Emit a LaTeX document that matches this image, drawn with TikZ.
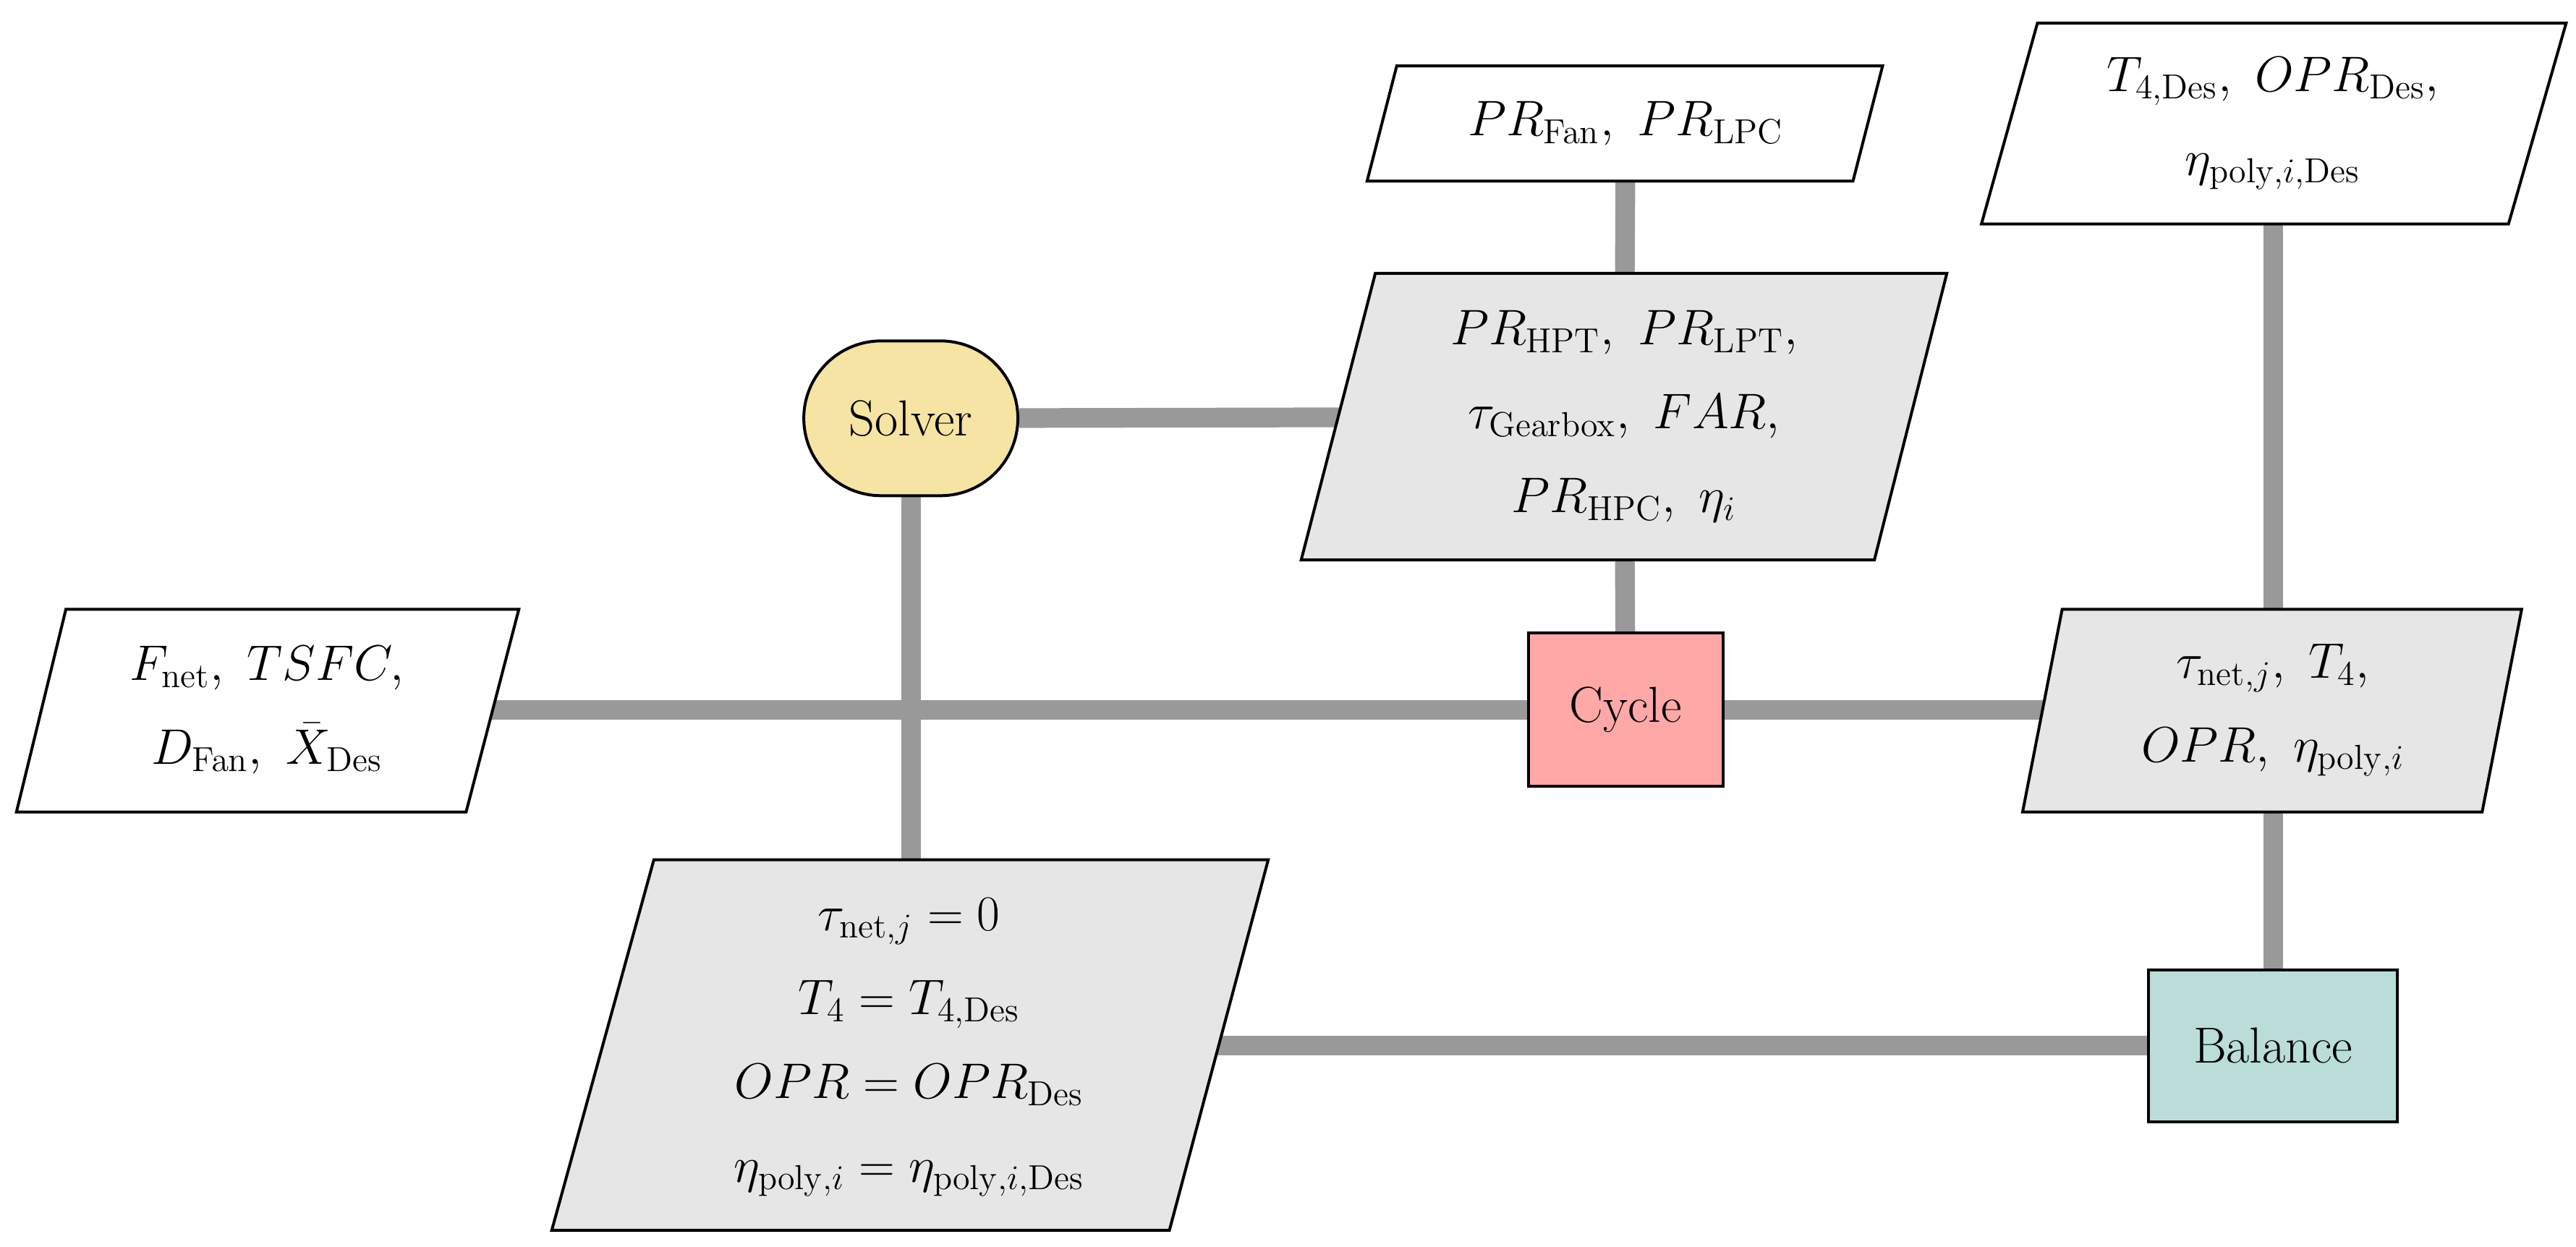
\documentclass[tikz,border=0pt]{standalone}
\usetikzlibrary{backgrounds}
\definecolor{lgray}{HTML}{E6E6E6}
\definecolor{solv}{HTML}{F5E4A3}
\definecolor{cyc}{HTML}{FFA8A8}
\definecolor{bal}{HTML}{BADDD9}
\definecolor{conn}{HTML}{999999}
\begin{document}
\begin{tikzpicture}[x=0.02cm,y=-0.02cm,
  box/.style={draw=black,line width=1pt},
  txt/.style={align=center,font=\fontsize{17.5}{29}\selectfont,inner sep=0pt},
  blk/.style={draw=black,line width=1pt,font=\fontsize{17.5}{21}\selectfont,inner sep=0pt},
  conn/.style={draw=conn,line width=6.8pt}]
\useasboundingbox (0,0) rectangle (1564,757);
% parallelograms
\draw[box,fill=white] (10,493)--(40,370)--(315,370)--(283,493)--cycle;
\draw[box,fill=white] (830,110)--(848,40)--(1143,40)--(1125,110)--cycle;
\draw[box,fill=lgray] (790,340)--(835,166)--(1182,166)--(1138,340)--cycle;
\draw[box,fill=white] (1203,136)--(1237,14)--(1558,14)--(1523,136)--cycle;
\draw[box,fill=lgray] (1228,493)--(1252,370)--(1531,370)--(1507,493)--cycle;
\draw[box,fill=lgray] (335,747)--(397,522)--(770,522)--(710,747)--cycle;
% texts
\node[txt] (out) at (162,431) {$F_\mathrm{net},\ TSFC,$\\$D_\mathrm{Fan},\ \bar{X}_\mathrm{Des}$};
\node[txt] (fan) at (987,75) {$PR_\mathrm{Fan},\ PR_\mathrm{LPC}$};
\node[txt] (var) at (986,253) {$PR_\mathrm{HPT},\ PR_\mathrm{LPT},$\\$\tau_\mathrm{Gearbox},\ FAR,$\\$PR_\mathrm{HPC},\ \eta_i$};
\node[txt] (des) at (1380,75) {$T_{4,\mathrm{Des}},\ OPR_\mathrm{Des},$\\$\eta_{\mathrm{poly},i,\mathrm{Des}}$};
\node[txt] (res) at (1380,431) {$\tau_{\mathrm{net},j},\ T_4,$\\$OPR,\ \eta_{\mathrm{poly},i}$};
\node[txt] (eq) at (552,636) {$\tau_{\mathrm{net},j}=0$\\$T_4=T_{4,\mathrm{Des}}$\\$OPR=OPR_\mathrm{Des}$\\$\eta_{\mathrm{poly},i}=\eta_{\mathrm{poly},i,\mathrm{Des}}$};
% blocks
\node[blk,fill=solv,rounded corners=0.94cm,minimum width=2.6cm,minimum height=1.88cm] (solver) at (553,254) {Solver};
\node[blk,fill=cyc,minimum width=2.36cm,minimum height=1.86cm] (cycle) at (987,431) {Cycle};
\node[blk,fill=bal,minimum width=3.02cm,minimum height=1.84cm] (balance) at (1380,635) {Balance};
% connectors
\begin{scope}[on background layer]
\coordinate (o) at (162,431);
\draw[conn] (out) -- (cycle);
\draw[conn] (cycle) -- (res);
\draw[conn] (solver) -- (solver |- eq);
\draw[conn] (solver) -- (var);
\draw[conn] (fan) -- (var);
\draw[conn] (var) -- (cycle);
\draw[conn] (des) -- (res);
\draw[conn] (res) -- (balance);
\draw[conn] (eq.center |- balance) -- (balance);
\end{scope}
\end{tikzpicture}
\end{document}
